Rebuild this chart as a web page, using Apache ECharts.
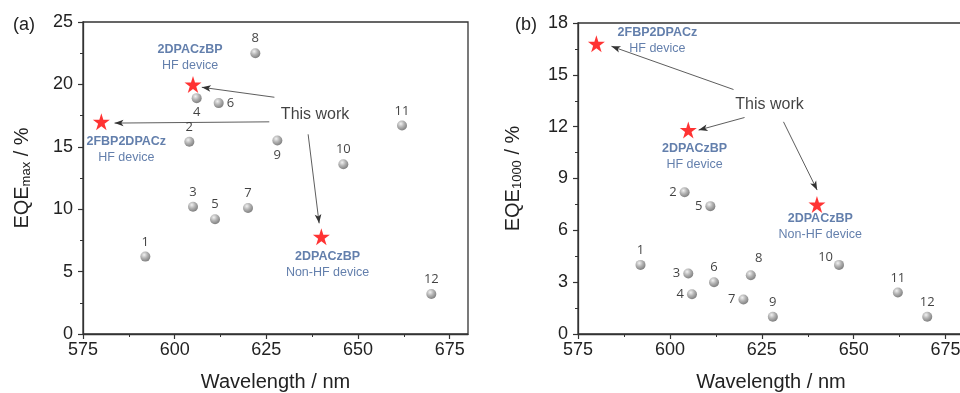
<!DOCTYPE html>
<html>
<head>
<meta charset="utf-8">
<script src="https://cdn.jsdelivr.net/npm/echarts@6/dist/echarts.min.js"></script>
<style>
html,body{margin:0;padding:0;background:#fff;}
#chart{width:960px;height:393px;}
</style>
</head>
<body>
<div id="chart"></div>
<script>
// ---- data ----
const refLabels = ['1','2','3','4','5','6','7','8','9','10','11','12'];
const refWavelengths = [592, 604, 605, 606, 611, 612, 620, 622, 628, 646, 662, 670];
const refEqeMax = [6.2, 15.4, 10.2, 18.9, 9.2, 18.5, 10.1, 22.5, 15.5, 13.6, 16.7, 3.2];
const refEqe1000 = [4.0, 8.2, 3.5, 2.3, 7.4, 3.0, 2.0, 3.4, 1.0, 4.0, 2.4, 1.0];

const workNames = ['2FBP2DPACz', '2DPACzBP', '2DPACzBP'];
const workDevices = ['HF device', 'HF device', 'Non-HF device'];
const workWavelengths = [580, 605, 640];
const workEqeMax = [17.0, 20.0, 7.8];
const workEqe1000 = [16.8, 11.8, 7.5];

const xTicks = [575, 600, 625, 650, 675];
const yTicksMax = [0, 5, 10, 15, 20, 25];
const yTicks1000 = [0, 3, 6, 9, 12, 15, 18];

// annotation anchors (data space)
const workLabelPosA = [[586.8, 14.76], [604.2, 22.17], [641.7, 5.6]];
const workLabelPosB = [[596.6, 16.99], [606.7, 10.28], [640.9, 6.22]];
const thisWorkPosA = [638.3, 17.6];
const thisWorkPosB = [627.1, 13.28];
const arrowsA = [
  [[625.8, 17.0], [583.6, 16.9]],
  [[627.2, 18.97], [607.4, 19.77]],
  [[636.4, 16.0], [639.4, 8.87]]
];
const arrowsB = [
  [[617.3, 14.15], [584.1, 16.65]],
  [[620.3, 12.53], [607.8, 11.8]],
  [[630.9, 12.28], [640.05, 8.33]]
];

// ---- styling ----
const labelStyleA = [
  {position:'top'},{position:'top'},{position:'top'},{position:'bottom'},
  {position:'top'},{position:'right'},{position:'top'},{position:'top'},
  {position:'bottom'},{position:'top'},{position:'top'},{position:'top'}
];
const labelStyleB = [
  {position:'top'},{position:'left'},{position:'left'},{position:'left'},
  {position:'left'},{position:'top'},{position:'left'},{position:'top', offset:[8,-2]},
  {position:'top'},{position:'left', offset:[2,-8]},{position:'top'},{position:'top'}
];

const FONT = 'Liberation Sans, Arial, sans-serif';
const BLUE = '#3c5f97';
const STAR = 'path://M50,0 L61.2,34.5 L97.6,34.5 L68.2,55.9 L79.4,90.5 L50,69.1 L20.6,90.5 L31.8,55.9 L2.4,34.5 L38.8,34.5 Z';

const sphere = new echarts.graphic.RadialGradient(0.38, 0.32, 0.75, [
  {offset: 0, color: '#eeeeee'},
  {offset: 0.45, color: '#a0a0a0'},
  {offset: 1, color: '#555555'}
]);

function axisX(gridIndex) {
  return {
    type: 'value', gridIndex, min: 575, max: 680, interval: 25,
    name: 'Wavelength / nm', nameLocation: 'middle', nameGap: 38,
    nameTextStyle: {fontFamily: FONT, fontSize: 20, color: '#222'},
    axisLine: {lineStyle: {color: '#333', width: 1.3}},
    axisTick: {show: true, inside: false, length: 5, customValues: xTicks, lineStyle: {color: '#333', width: 1.2}},
    minorTick: {show: true, splitNumber: 2, length: 3, lineStyle: {color: '#333', width: 1}},
    axisLabel: {fontFamily: FONT, fontSize: 18, color: '#222', margin: 7, customValues: xTicks},
    splitLine: {show: false}
  };
}
function axisY(gridIndex, max, interval, ticks, sub, gap) {
  return {
    type: 'value', gridIndex, min: 0, max, interval,
    name: '{a|EQE}{s|' + sub + '}{a| / %}', nameLocation: 'middle', nameGap: gap, nameRotate: 90,
    nameTextStyle: {fontFamily: FONT, fontSize: 20, color: '#222',
      rich: {
        a: {fontFamily: FONT, fontSize: 20, color: '#222'},
        s: {fontFamily: FONT, fontSize: 13, color: '#222', verticalAlign: 'bottom', padding: [8, 0, 0, 0]}
      }},
    axisLine: {lineStyle: {color: '#333', width: 1.3}},
    axisTick: {show: true, inside: false, length: 5, lineStyle: {color: '#333', width: 1.2}},
    minorTick: {show: true, splitNumber: 2, length: 3, lineStyle: {color: '#333', width: 1}},
    axisLabel: {fontFamily: FONT, fontSize: 18, color: '#222', margin: 10, customValues: ticks},
    splitLine: {show: false}
  };
}

function refSeries(idx, yvals, labelStyles) {
  return {
    type: 'scatter', xAxisIndex: idx, yAxisIndex: idx,
    symbol: 'circle', symbolSize: 10,
    itemStyle: {color: sphere},
    label: {show: true, fontFamily: 'Open Sans, sans-serif', fontSize: 13, color: '#111', distance: 3,
      formatter: p => p.data.name},
    data: refWavelengths.map((x, i) => ({
      value: [x, yvals[i]], name: refLabels[i], label: labelStyles[i]
    })),
    z: 3
  };
}
function workSeries(idx, yvals, arrows) {
  return {
    type: 'scatter', xAxisIndex: idx, yAxisIndex: idx,
    symbol: STAR, symbolSize: 17,
    itemStyle: {color: '#ff0000'},
    data: workWavelengths.map((x, i) => [x, yvals[i]]),
    markLine: {
      silent: true, symbol: ['none', 'arrow'], symbolSize: [5, 9],
      lineStyle: {color: '#333', width: 0.8, type: 'solid'},
      label: {show: false},
      data: arrows.map(a => [{coord: a[0]}, {coord: a[1]}])
    },
    z: 4
  };
}
function annotSeries(idx, labelPos, thisWorkPos) {
  const data = labelPos.map((p, i) => ({
    value: p,
    label: {formatter: '{b|' + workNames[i] + '}\n{n|' + workDevices[i] + '}'}
  }));
  data.push({value: thisWorkPos, label: {formatter: '{t|This work}'}});
  return {
    type: 'scatter', xAxisIndex: idx, yAxisIndex: idx, symbolSize: 0, silent: true,
    label: {show: true, position: 'inside',
      rich: {
        b: {fontFamily: FONT, fontSize: 12.5, fontWeight: 'bold', color: BLUE, lineHeight: 16, align: 'center'},
        n: {fontFamily: FONT, fontSize: 12.5, color: BLUE, lineHeight: 16, align: 'center'},
        t: {fontFamily: FONT, fontSize: 16, color: '#111', align: 'center'}
      }},
    data
  };
}

const chart = echarts.init(document.getElementById('chart'), null, {renderer: 'canvas'});
chart.setOption({
  animation: false,
  backgroundColor: '#fff',
  title: [
    {text: '(a)', left: 8, top: 11, textStyle: {fontFamily: FONT, fontSize: 18, fontWeight: 'normal', color: '#222'}},
    {text: '(b)', left: 510, top: 11, textStyle: {fontFamily: FONT, fontSize: 18, fontWeight: 'normal', color: '#222'}}
  ],
  grid: [
    {left: 83, top: 22, width: 385, height: 312, show: true, borderColor: '#333', borderWidth: 1.3, outerBoundsMode: 'none', containLabel: false},
    {left: 578, top: 23, width: 386, height: 311, show: true, borderColor: '#333', borderWidth: 1.3, outerBoundsMode: 'none', containLabel: false}
  ],
  xAxis: [axisX(0), axisX(1)],
  yAxis: [axisY(0, 25, 5, yTicksMax, 'max', 50), axisY(1, 18, 3, yTicks1000, '1000', 54)],
  series: [
    refSeries(0, refEqeMax, labelStyleA),
    workSeries(0, workEqeMax, arrowsA),
    annotSeries(0, workLabelPosA, thisWorkPosA),
    refSeries(1, refEqe1000, labelStyleB),
    workSeries(1, workEqe1000, arrowsB),
    annotSeries(1, workLabelPosB, thisWorkPosB)
  ]
});
</script>
</body>
</html>
